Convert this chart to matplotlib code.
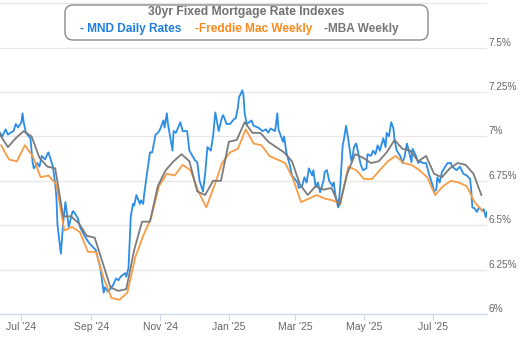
import matplotlib
matplotlib.use("Agg")
import matplotlib.pyplot as plt
import matplotlib.dates as mdates
from matplotlib.patches import FancyBboxPatch
import pandas as pd

# MND daily index
mnd_dates = [
    "2024-06-12", "2024-06-14", "2024-06-17", "2024-06-19", "2024-06-21", "2024-06-24",
    "2024-06-26", "2024-06-28", "2024-07-01", "2024-07-02", "2024-07-03", "2024-07-05",
    "2024-07-09", "2024-07-11", "2024-07-12", "2024-07-15", "2024-07-17", "2024-07-19",
    "2024-07-22", "2024-07-24", "2024-07-25", "2024-07-29", "2024-07-30", "2024-07-31",
    "2024-08-01", "2024-08-02", "2024-08-05", "2024-08-07", "2024-08-09", "2024-08-12",
    "2024-08-15", "2024-08-16", "2024-08-20", "2024-08-22", "2024-08-26", "2024-08-30",
    "2024-09-05", "2024-09-09", "2024-09-12", "2024-09-13", "2024-09-16", "2024-09-20",
    "2024-09-23", "2024-09-25", "2024-09-27", "2024-10-01", "2024-10-02", "2024-10-04",
    "2024-10-06", "2024-10-08", "2024-10-09", "2024-10-11", "2024-10-14", "2024-10-15",
    "2024-10-17", "2024-10-18", "2024-10-21", "2024-10-23", "2024-10-25", "2024-10-28",
    "2024-10-30", "2024-11-01", "2024-11-04", "2024-11-05", "2024-11-06", "2024-11-07",
    "2024-11-08", "2024-11-12", "2024-11-13", "2024-11-15", "2024-11-19", "2024-11-21",
    "2024-11-25", "2024-11-27", "2024-12-02", "2024-12-04", "2024-12-06", "2024-12-09",
    "2024-12-11", "2024-12-13", "2024-12-16", "2024-12-18", "2024-12-20", "2024-12-23",
    "2024-12-26", "2024-12-27", "2024-12-30", "2025-01-02", "2025-01-06", "2025-01-07",
    "2025-01-09", "2025-01-10", "2025-01-13", "2025-01-14", "2025-01-15", "2025-01-17",
    "2025-01-21", "2025-01-23", "2025-01-27", "2025-01-31", "2025-02-03", "2025-02-05",
    "2025-02-07", "2025-02-11", "2025-02-13", "2025-02-14", "2025-02-18", "2025-02-19",
    "2025-02-21", "2025-02-24", "2025-02-26", "2025-03-03", "2025-03-04", "2025-03-07",
    "2025-03-09", "2025-03-11", "2025-03-13", "2025-03-16", "2025-03-17", "2025-03-19",
    "2025-03-21", "2025-03-23", "2025-03-26", "2025-03-27", "2025-03-29", "2025-03-31",
    "2025-04-03", "2025-04-04", "2025-04-06", "2025-04-08", "2025-04-09", "2025-04-10",
    "2025-04-12", "2025-04-13", "2025-04-15", "2025-04-17", "2025-04-19", "2025-04-20",
    "2025-04-22", "2025-04-24", "2025-04-26", "2025-04-28", "2025-04-30", "2025-05-03",
    "2025-05-04", "2025-05-07", "2025-05-09", "2025-05-11", "2025-05-13", "2025-05-15",
    "2025-05-18", "2025-05-20", "2025-05-21", "2025-05-23", "2025-05-25", "2025-05-27",
    "2025-05-28", "2025-05-30", "2025-06-02", "2025-06-04", "2025-06-06", "2025-06-08",
    "2025-06-10", "2025-06-12", "2025-06-13", "2025-06-16", "2025-06-18", "2025-06-20",
    "2025-06-22", "2025-06-25", "2025-06-27", "2025-06-29", "2025-07-01", "2025-07-02",
    "2025-07-04", "2025-07-05", "2025-07-07", "2025-07-09", "2025-07-11", "2025-07-14",
    "2025-07-17", "2025-07-18", "2025-07-22", "2025-07-25", "2025-07-28", "2025-07-31",
    "2025-08-03", "2025-08-04", "2025-08-05", "2025-08-07", "2025-08-09", "2025-08-11",
    "2025-08-14", "2025-08-15", "2025-08-17", "2025-08-18",
]
mnd_rates = [
    7.02, 7.00, 7.04, 7.01, 7.02, 7.03,
    7.07, 7.05, 7.08, 7.13, 7.08, 7.02,
    6.99, 6.85, 6.82, 6.85, 6.83, 6.89,
    6.87, 6.90, 6.91, 6.83, 6.78, 6.73,
    6.66, 6.50, 6.34, 6.51, 6.63, 6.49,
    6.57, 6.58, 6.54, 6.49, 6.44, 6.40,
    6.36, 6.26, 6.12, 6.15, 6.125, 6.16,
    6.20, 6.19, 6.21, 6.23, 6.21, 6.26,
    6.55, 6.62, 6.61, 6.67, 6.62, 6.64,
    6.62, 6.68, 6.82, 6.91, 6.91, 7.01,
    7.02, 7.04, 7.09, 7.05, 7.09, 7.13,
    7.07, 6.92, 7.03, 7.02, 7.08, 7.03,
    7.03, 6.92, 6.865, 6.855, 6.75, 6.69,
    6.79, 6.94, 6.92, 7.00, 7.135, 7.03,
    7.11, 7.12, 7.07, 7.07, 7.10, 7.10,
    7.16, 7.22, 7.26, 7.23, 7.13, 7.07,
    7.09, 7.06, 7.05, 7.03, 7.04, 7.02,
    7.045, 7.03, 7.13, 7.04, 6.97, 7.00,
    6.91, 6.84, 6.78, 6.74, 6.71, 6.72,
    6.77, 6.74, 6.82, 6.78, 6.81, 6.715,
    6.74, 6.685, 6.75, 6.80, 6.81, 6.75,
    6.72, 6.74, 6.65, 6.60, 6.66, 6.74,
    6.95, 6.98, 7.06, 6.98, 6.89, 6.855,
    6.94, 6.96, 6.90, 6.84, 6.81, 6.82,
    6.90, 6.89, 6.92, 6.90, 6.95, 6.92,
    6.99, 6.94, 7.02, 7.00, 7.08, 7.045,
    6.98, 6.92, 6.89, 6.85, 6.89, 6.96,
    6.91, 6.855, 6.93, 6.89, 6.85, 6.86,
    6.85, 6.85, 6.80, 6.76, 6.72, 6.69,
    6.70, 6.77, 6.74, 6.80, 6.82, 6.85,
    6.85, 6.83, 6.81, 6.83, 6.79, 6.78,
    6.76, 6.70, 6.60, 6.595, 6.575, 6.60,
    6.58, 6.59, 6.545, 6.575,
]

# Freddie Mac PMMS weekly
fm_dates = pd.date_range("2024-06-13", "2025-08-14", freq="7D")
fm_rates = [
    6.95, 6.87, 6.86, 6.95, 6.89, 6.77, 6.78, 6.73, 6.47, 6.49, 6.46, 6.35,
    6.35, 6.20, 6.09, 6.08, 6.12, 6.32, 6.44, 6.54, 6.72, 6.79, 6.78, 6.84,
    6.81, 6.69, 6.60, 6.72, 6.85, 6.91, 6.93, 7.04, 6.96, 6.95, 6.89, 6.87,
    6.85, 6.76, 6.63, 6.65, 6.67, 6.65, 6.64, 6.62, 6.83, 6.81, 6.76, 6.76,
    6.81, 6.86, 6.89, 6.85, 6.84, 6.81, 6.77, 6.67, 6.72, 6.75, 6.74, 6.72,
    6.63, 6.58,
]

# MBA weekly
mba_dates = pd.date_range("2024-06-12", "2025-08-13", freq="7D")
mba_rates = [
    7.01, 6.94, 6.99, 7.03, 7.00, 6.88, 6.83, 6.82, 6.55, 6.55, 6.51, 6.44,
    6.43, 6.29, 6.15, 6.13, 6.14, 6.36, 6.52, 6.52, 6.72, 6.81, 6.86, 6.90,
    6.86, 6.69, 6.67, 6.75, 6.75, 6.97, 6.98, 7.08, 7.02, 7.02, 6.97, 6.94,
    6.91, 6.86, 6.73, 6.67, 6.72, 6.70, 6.71, 6.61, 6.79, 6.90, 6.88, 6.85,
    6.86, 6.91, 6.98, 6.93, 6.92, 6.86, 6.89, 6.79, 6.77, 6.82, 6.85, 6.84,
    6.79, 6.67,
]

y_ticks = [6.0, 6.25, 6.5, 6.75, 7.0, 7.25, 7.5, 7.75]
y_labels = ["6%", "6.25%", "6.5%", "6.75%", "7%", "7.25%", "7.5%", ""]

blue = "#2b8de6"
orange = "#f89c45"
grey = "#7b7b7b"
label_grey = "#666666"

plt.rcParams["font.family"] = ["Liberation Sans", "DejaVu Sans"]

fig = plt.figure(figsize=(5.25, 3.42), dpi=100)
ax = fig.add_axes([0, 28 / 342, 487 / 525, 312 / 342])

ax.plot(pd.to_datetime(mnd_dates), mnd_rates, color=blue, lw=1.3, zorder=3)
ax.plot(fm_dates, fm_rates, color=orange, lw=1.3, zorder=4)
ax.plot(mba_dates, mba_rates, color=grey, lw=1.3, zorder=5)

ax.set_xlim(pd.Timestamp("2024-06-12"), pd.Timestamp("2025-08-18"))
ax.set_ylim(6.0, 7.757)

ax.set_yticks(y_ticks)
ax.set_yticklabels(y_labels)
ax.yaxis.tick_right()
ax.tick_params(axis="y", length=0, pad=1, labelsize=7.2, labelcolor=label_grey)
for lab in ax.get_yticklabels():
    lab.set_verticalalignment("bottom")
ax.grid(axis="y", color="#e6e6e6", lw=0.9)
ax.set_axisbelow(True)

ax.xaxis.set_major_locator(mdates.MonthLocator(bymonth=[1, 3, 5, 7, 9, 11]))
ax.xaxis.set_major_formatter(mdates.DateFormatter("%b '%y"))
ax.tick_params(axis="x", length=4, width=0.8, color="#ccd6eb", pad=2,
               labelsize=7.5, labelcolor=label_grey)

for s in ["top", "left", "right"]:
    ax.spines[s].set_visible(False)
ax.spines["bottom"].set_color("#ccd6eb")
ax.spines["bottom"].set_linewidth(0.9)

# legend box at the top
box = FancyBboxPatch((65, 342 - 40), 363, 35, boxstyle="round,pad=0,rounding_size=8",
                     transform=None, facecolor="white", edgecolor="#8a8a8a", lw=1.0,
                     zorder=10)
fig.patches.append(box)
fig.text(246 / 525, (342 - 12.5) / 342, "30yr Fixed Mortgage Rate Indexes", ha="center",
         va="center", fontsize=8.7, fontweight="bold", color="#707070", zorder=11)
fig.text(80 / 525, (342 - 29) / 342, "- MND Daily Rates", ha="left", va="center",
         fontsize=8.6, fontweight="bold", color="#1f7fdc", zorder=11)
fig.text(195 / 525, (342 - 29) / 342, "-Freddie Mac Weekly", ha="left", va="center",
         fontsize=8.6, fontweight="bold", color="#f78b22", zorder=11)
fig.text(324 / 525, (342 - 29) / 342, "-MBA Weekly", ha="left", va="center",
         fontsize=8.6, fontweight="bold", color="#777777", zorder=11)

fig.savefig("out.png", dpi=100)
